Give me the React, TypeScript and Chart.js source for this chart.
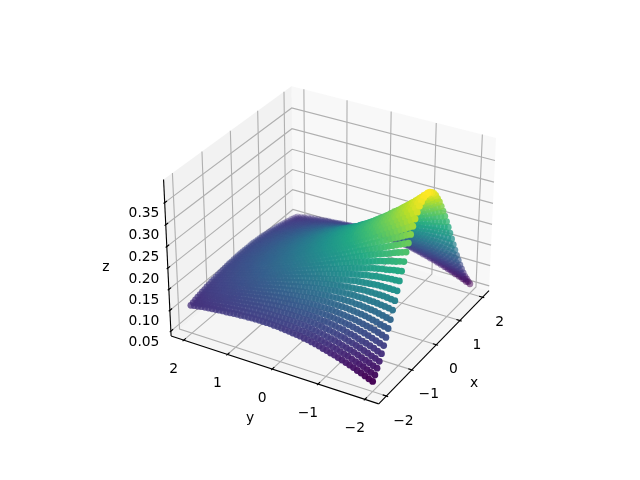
import React, { useEffect, useRef } from "react";
import { Chart, registerables } from "chart.js";
Chart.register(...registerables);

const xTicks = [-2, -1, 0, 1, 2];
const yTicks = [-2, -1, 0, 1, 2];
const zTicks = [0.05, 0.1, 0.15, 0.2, 0.25, 0.3, 0.35];
const xBox = [-2.2917, 2.2917];
const yBox = [-2.2917, 2.2917];
const zBox = [0.038, 0.4017];
const viridis = ["#440154","#482475","#414487","#355f8d","#2a788e","#21918c","#22a884","#44bf70","#7ad151","#bddf26","#fde725"];

const xValues = [-2,-1.918,-1.837,-1.755,-1.673,-1.592,-1.51,-1.429,-1.347,-1.265,-1.184,-1.102,-1.02,-0.939,-0.857,-0.776,-0.694,-0.612,-0.531,-0.449,-0.367,-0.286,-0.204,-0.122,-0.041,0.041,0.122,0.204,0.286,0.367,0.449,0.531,0.612,0.694,0.776,0.857,0.939,1.02,1.102,1.184,1.265,1.347,1.429,1.51,1.592,1.673,1.755,1.837,1.918,2];
const yValues = [-2,-1.918,-1.837,-1.755,-1.673,-1.592,-1.51,-1.429,-1.347,-1.265,-1.184,-1.102,-1.02,-0.939,-0.857,-0.776,-0.694,-0.612,-0.531,-0.449,-0.367,-0.286,-0.204,-0.122,-0.041,0.041,0.122,0.204,0.286,0.367,0.449,0.531,0.612,0.694,0.776,0.857,0.939,1.02,1.102,1.184,1.265,1.347,1.429,1.51,1.592,1.673,1.755,1.837,1.918,2];

// z in thousandths, estimated from a curve fitted to the picture's edges and ridge.
// Rows run from x = -2 to x = -0.04, columns along yValues; the surface reads as mirror-symmetric about x = 0.
const zHalfRows = [
[62,65,69,73,76,80,83,86,89,92,95,97,100,102,105,107,109,111,112,114,115,116,117,118,119,120,120,121,121,121,121,121,121,120,120,119,119,118,117,116,116,115,114,113,112,111,110,108,107,105],
[72,75,79,83,86,89,92,96,98,101,104,106,109,111,113,115,117,119,120,121,122,123,124,125,125,126,126,126,126,126,126,126,125,125,124,123,123,122,121,120,119,117,116,115,114,113,111,110,108,107],
[83,86,90,93,96,100,103,106,108,111,114,116,118,120,122,124,125,127,128,129,130,130,131,131,131,131,131,131,131,131,131,130,130,129,128,127,126,125,124,123,122,121,119,118,116,115,114,112,110,109],
[94,98,101,105,108,111,114,117,119,122,124,126,128,130,131,133,134,135,136,137,137,138,138,138,138,138,137,137,137,136,135,134,134,133,132,131,130,128,127,126,125,123,122,120,119,117,116,114,112,111],
[107,110,114,117,120,122,125,128,130,132,135,136,138,139,141,141,142,143,144,144,145,145,145,144,144,144,143,143,142,141,140,139,138,137,135,134,133,131,130,128,127,125,124,122,121,119,118,116,114,112],
[121,124,127,130,133,136,138,140,142,144,145,147,148,149,150,151,151,152,152,152,152,152,151,151,150,150,149,148,147,146,145,144,142,141,139,138,136,135,133,131,130,128,126,125,123,121,120,118,116,114],
[135,138,141,144,146,148,150,152,154,155,156,157,158,159,160,160,160,160,160,160,159,159,158,157,156,155,154,153,152,151,149,148,146,145,143,141,140,138,136,134,132,130,129,127,125,123,121,119,117,115],
[151,153,155,158,160,162,164,165,166,167,168,169,169,169,169,169,169,169,168,168,167,166,165,163,162,161,159,158,157,155,154,152,150,148,146,145,143,141,139,137,135,133,131,129,127,125,123,121,119,117],
[167,169,171,173,175,176,177,178,179,179,180,180,180,180,179,178,178,177,176,175,174,173,171,170,168,167,165,163,162,160,158,156,154,152,150,148,146,144,142,140,138,135,133,131,129,127,125,122,120,118],
[184,186,187,188,189,190,190,191,191,191,191,191,190,190,189,188,187,185,184,183,181,180,178,176,174,172,170,168,166,164,162,160,158,155,153,151,149,147,144,142,140,137,135,133,131,129,126,124,122,120],
[201,202,203,204,204,204,204,204,204,203,202,201,200,199,198,196,195,193,192,190,188,186,184,182,180,178,175,173,171,169,166,164,161,159,156,154,152,149,147,144,142,139,137,135,132,130,127,125,123,121],
[219,219,219,219,219,219,218,217,216,215,214,213,211,209,208,205,203,201,199,197,195,193,190,188,186,183,180,178,175,172,170,168,165,162,160,157,155,152,150,147,144,142,139,137,134,132,129,127,124,122],
[237,236,236,235,234,233,232,230,229,227,225,223,221,219,217,214,212,209,207,204,201,199,196,193,190,188,185,182,179,176,174,171,168,165,163,160,157,154,152,149,146,143,141,138,136,133,131,128,125,123],
[255,253,252,250,248,247,245,243,241,238,236,233,231,228,225,222,219,216,213,211,208,205,202,199,195,192,189,186,183,180,177,174,171,168,165,162,159,156,154,151,148,145,142,140,137,135,132,129,127,124],
[272,270,267,265,263,260,258,255,252,249,246,243,240,237,233,230,227,224,220,217,214,210,207,204,200,197,194,190,187,184,180,177,174,171,168,165,161,158,155,152,150,147,144,141,138,136,133,130,128,125],
[289,286,283,280,276,273,270,267,263,260,256,252,249,245,241,237,233,230,226,222,219,215,211,208,204,201,197,194,190,187,183,180,177,173,170,167,164,161,158,155,152,148,145,143,140,137,134,132,129,126],
[305,301,297,293,289,285,281,277,273,269,265,261,257,253,248,244,240,236,232,228,224,220,216,212,208,205,201,197,193,190,186,183,179,176,172,169,165,162,159,156,153,150,147,144,141,138,135,132,129,127],
[320,316,311,306,302,297,292,288,283,278,274,269,264,260,255,251,246,242,238,233,229,224,220,216,212,208,204,200,196,192,189,185,181,178,174,170,167,164,160,157,154,151,148,145,142,139,136,133,130,128],
[334,329,323,318,312,307,302,297,292,286,281,276,271,266,261,256,251,247,242,237,233,228,224,219,215,211,207,203,198,195,191,187,183,179,176,172,169,165,162,159,155,152,149,146,143,140,137,134,131,128],
[346,340,334,328,322,316,310,305,299,294,288,283,277,272,266,261,256,251,246,241,236,231,227,222,218,213,209,205,201,197,193,189,185,181,177,173,170,166,163,159,156,153,150,147,143,140,137,134,131,129],
[357,350,343,336,330,323,317,311,305,299,293,287,281,275,270,264,259,254,249,244,239,234,229,225,220,216,211,207,202,198,194,190,186,182,178,174,171,167,164,160,157,153,150,147,144,141,138,135,132,129],
[366,359,352,344,337,331,324,317,311,305,298,292,286,280,274,268,263,257,252,247,241,236,231,227,222,217,213,208,204,199,195,191,187,183,179,175,172,168,164,161,157,153,151,147,144,141,138,135,132,130],
[372,365,357,349,342,335,328,321,314,308,301,295,289,283,277,270,265,259,254,249,243,238,233,228,223,218,214,209,205,200,196,192,188,184,180,176,172,168,165,161,157,154,151,147,144,141,138,135,132,130],
[377,369,361,353,345,338,331,324,317,311,304,297,291,285,279,272,267,261,255,250,244,239,234,229,224,219,215,210,206,201,197,193,189,185,181,177,173,169,166,162,158,155,152,148,145,142,139,136,133,130],
[379,371,363,355,347,340,333,325,318,312,305,298,292,286,280,273,268,262,256,251,245,240,235,230,225,220,215,210,206,201,197,193,189,185,181,177,173,169,166,162,158,155,152,148,145,142,139,136,133,130],
];
const zRows = [...zHalfRows, ...[...zHalfRows].reverse()];

const box = [1.1905, 1.1905, 0.8929];
function project(x: number, y: number, z: number) {
  const a = ((x - xBox[0]) / (xBox[1] - xBox[0]) - 0.5) * box[0];
  const b = ((y - yBox[0]) / (yBox[1] - yBox[0]) - 0.5) * box[1];
  const c = ((z - zBox[0]) / (zBox[1] - zBox[0]) - 0.5) * box[2];
  const X = 0.5 * a - 0.8660254 * b;
  const Y = 0.4330127 * a + 0.25 * b + 0.8660254 * c;
  const d = -0.75 * a - 0.4330127 * b + 0.5 * c;
  return { x: X / (10 - d), y: Y / (10 - d), d };
}
function hex(c: string) { return [1, 3, 5].map((i) => parseInt(c.slice(i, i + 2), 16)); }
function color(t: number, alpha: number) {
  const p = Math.min(0.99999, Math.max(0, t)) * (viridis.length - 1);
  const i = Math.floor(p), f = p - i;
  const A = hex(viridis[i]), B = hex(viridis[i + 1]);
  return `rgba(${A.map((v, k) => Math.round(v + (B[k] - v) * f)).join(",")},${alpha})`;
}

export default function App() {
  const ref = useRef<HTMLCanvasElement>(null);
  useEffect(() => {
    const pts: any[] = [];
    xValues.forEach((x, i) => yValues.forEach((y, j) => {
      const z = zRows[i][j] / 1000;
      pts.push({ ...project(x, y, z), z });
    }));
    const ds = pts.map((p) => p.d);
    const dmin = Math.min(...ds), dmax = Math.max(...ds);
    const zs = pts.map((p) => p.z);
    const zmin = Math.min(...zs), zmax = Math.max(...zs);
    pts.sort((p, q) => p.d - q.d);
    const colors = pts.map((p) => color((p.z - zmin) / (zmax - zmin), +(0.3 + (0.7 * (p.d - dmin)) / (dmax - dmin)).toFixed(3)));
    const frame = {
      id: "frame",
      beforeDatasetsDraw(chart: any) {
        const g = chart.ctx, sx = chart.scales.x, sy = chart.scales.y;
        const P = (x: number, y: number, z: number) => { const p = project(x, y, z); return [sx.getPixelForValue(p.x), sy.getPixelForValue(p.y)]; };
        const path = (list: number[][]) => { g.beginPath(); list.forEach((q, i) => { const [u, v] = P(q[0], q[1], q[2]); i ? g.lineTo(u, v) : g.moveTo(u, v); }); };
        const [x0, x1] = xBox, [y0, y1] = yBox, [z0, z1] = zBox;
        g.save();
        g.fillStyle = "rgba(242,242,242,0.5)"; path([[x1,y0,z0],[x1,y1,z0],[x1,y1,z1],[x1,y0,z1]]); g.fill();
        g.fillStyle = "rgba(230,230,230,0.5)"; path([[x0,y1,z0],[x1,y1,z0],[x1,y1,z1],[x0,y1,z1]]); g.fill();
        g.fillStyle = "rgba(236,236,236,0.5)"; path([[x0,y0,z0],[x1,y0,z0],[x1,y1,z0],[x0,y1,z0]]); g.fill();
        g.strokeStyle = "#b0b0b0"; g.lineWidth = 1.11;
        xTicks.forEach((t) => { path([[t,y0,z0],[t,y1,z0],[t,y1,z1]]); g.stroke(); });
        yTicks.forEach((t) => { path([[x0,t,z0],[x1,t,z0],[x1,t,z1]]); g.stroke(); });
        zTicks.forEach((t) => { path([[x0,y1,t],[x1,y1,t],[x1,y0,t]]); g.stroke(); });
        g.strokeStyle = "#000";
        path([[x0,y0,z0],[x1,y0,z0]]); g.stroke();
        path([[x0,y0,z0],[x0,y1,z0]]); g.stroke();
        path([[x0,y1,z0],[x0,y1,z1]]); g.stroke();
        const dx = (x1 - x0) / 12, dy = (y1 - y0) / 12;
        xTicks.forEach((t) => { path([[t,y0 - 0.1*dy,z0],[t,y0 + 0.2*dy,z0]]); g.stroke(); });
        yTicks.forEach((t) => { path([[x0 - 0.1*dx,t,z0],[x0 + 0.2*dx,t,z0]]); g.stroke(); });
        zTicks.forEach((t) => { path([[x0 - 0.1*dx,y1,t],[x0 + 0.2*dx,y1,t]]); g.stroke(); });
        g.fillStyle = "#000"; g.font = "13.89px 'DejaVu Sans'"; g.textAlign = "center"; g.textBaseline = "middle";
        const label = (v: number) => (v < 0 ? "\u2212" + Math.abs(v) : String(v));
        xTicks.forEach((t) => { const [u, v] = P(t, y0, z0); g.fillText(label(t), u + 17, v + 25); });
        yTicks.forEach((t) => { const [u, v] = P(x0, t, z0); g.fillText(label(t), u - 10, v + 29); });
        zTicks.forEach((t) => { const [, v] = P(x0, y1, t); g.fillText(t.toFixed(2), 144, v + 11); });
        g.fillText("x", 474, 383); g.fillText("y", 250, 418); g.fillText("z", 106, 267);
        g.restore();
      },
    };
    const chart = new Chart(ref.current!, {
      type: "scatter",
      data: { datasets: [{ data: pts.map((p) => ({ x: p.x, y: p.y })), backgroundColor: colors, borderColor: colors, borderWidth: 0, pointRadius: 3.4 }] },
      options: {
        animation: false, responsive: false,
        layout: { padding: 0, autoPadding: false },
        plugins: { legend: { display: false }, tooltip: { enabled: false } },
        scales: {
          x: { display: false, min: -0.16668, max: 0.15367 },
          y: { display: false, min: -0.12143, max: 0.11883 },
        },
      },
      plugins: [frame],
    } as any);
    return () => chart.destroy();
  }, []);
  return <div style={{ position: "fixed", left: 0, top: 0, width: 640, height: 480 }}><canvas ref={ref} width={640} height={480} style={{ display: "block" }} /></div>;
}
